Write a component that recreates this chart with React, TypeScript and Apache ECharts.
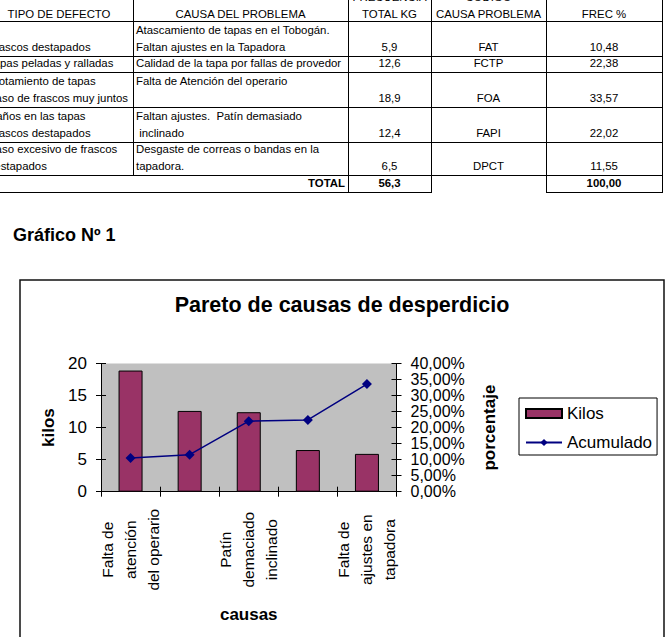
import React, { useEffect, useRef } from "react";
import * as echarts from "echarts";

// ---------- Table data ----------
const tableHeaders = ["TIPO DE DEFECTO", "CAUSA DEL PROBLEMA", "FRECUENCIA\nTOTAL KG", "CODIGO\nCAUSA PROBLEMA", "FREC %"];
const defectTypes = [
  "\nFrascos destapados",
  "Tapas peladas y ralladas",
  "Frotamiento de tapas\nPaso de frascos muy juntos",
  "Daños en las tapas\nFrascos destapados",
  "Paso excesivo de frascos\ndestapados",
];
const problemCauses = [
  "Atascamiento de tapas en el Tobogán.\nFaltan ajustes en la Tapadora",
  "Calidad de la tapa por fallas de provedor",
  "Falta de Atención del operario\n ",
  "Faltan ajustes.  Patín demasiado\n inclinado",
  "Desgaste de correas o bandas en la\ntapadora.",
];
const totalKg = ["5,9", "12,6", "18,9", "12,4", "6,5"];
const causeCodes = ["FAT", "FCTP", "FOA", "FAPI", "DPCT"];
const freqPct = ["10,48", "22,38", "33,57", "22,02", "11,55"];
const totalLabel = "TOTAL";
const totalKgSum = "56,3";
const freqPctSum = "100,00";
const heading = "Gráfico Nº 1";

// ---------- Chart data ----------
const chartTitle = "Pareto de causas de desperdicio";
const categories = [
  "Falta de\natención\ndel operario",
  "Calidad de\nla tapa\n(proveedor)",
  "Patín\ndemaciado\ninclinado",
  "Desgaste de\ncorreas o\nbandas",
  "Falta de\najustes en\ntapadora",
];
const kilos = [18.9, 12.6, 12.4, 6.5, 5.9];
const acumulado = [10.48, 11.55, 22.02, 22.38, 33.57];
const seriesNames = ["Kilos", "Acumulado"];
const kilosAxis = { min: 0, max: 20, interval: 5, name: "kilos" };
const pctAxis = { min: 0, max: 40, interval: 5, name: "porcentaje" };
const xAxisName = "causas";

const FONT = '"Liberation Sans", Arial, Helvetica, sans-serif';

// layout (not data)
const colX = [-14, 134, 349, 432, 547, 663];
const rowY = [-16, 22, 57, 73, 108, 143, 176, 193];

type CellProps = {
  c0: number;
  c1: number;
  r: number;
  text: string;
  align: "left" | "center" | "right";
  bold?: boolean;
  bottom?: boolean;
  right?: boolean;
  shift?: number;
};

function Cell({ c0, c1, r, text, align, bold, bottom = true, right = true, shift = 0 }: CellProps) {
  const left = colX[c0];
  const top = rowY[r];
  const width = colX[c1] - colX[c0];
  const height = rowY[r + 1] - rowY[r];
  return (
    <div
      style={{
        position: "absolute",
        left,
        top,
        width,
        height,
        boxSizing: "border-box",
        borderRight: right ? "1px solid #000" : "none",
        borderBottom: bottom ? "1px solid #000" : "none",
        display: "flex",
        flexDirection: "column",
        justifyContent: "flex-end",
        textAlign: align,
        whiteSpace: "pre",
        overflow: "hidden",
        fontFamily: FONT,
        fontSize: 11.4,
        lineHeight: "16.8px",
        fontWeight: bold ? "bold" : "normal",
        padding: "0 3px 0 2px",
        color: "#000",
      }}
    >
      <div style={{ transform: `translateY(${shift}px)` }}>{text}</div>
    </div>
  );
}

function Table() {
  const cells: React.ReactNode[] = [];
  tableHeaders.forEach((h, i) => {
    cells.push(<Cell key={"h" + i} c0={i} c1={i + 1} r={0} text={h} align="center" shift={1.5} />);
  });
  for (let i = 0; i < defectTypes.length; i++) {
    const r = i + 1;
    cells.push(<Cell key={"a" + i} c0={0} c1={1} r={r} text={defectTypes[i]} align="left" />);
    cells.push(<Cell key={"b" + i} c0={1} c1={2} r={r} text={problemCauses[i]} align="left" />);
    cells.push(<Cell key={"c" + i} c0={2} c1={3} r={r} text={totalKg[i]} align="center" />);
    cells.push(<Cell key={"d" + i} c0={3} c1={4} r={r} text={causeCodes[i]} align="center" />);
    cells.push(<Cell key={"e" + i} c0={4} c1={5} r={r} text={freqPct[i]} align="center" />);
  }
  const tr = defectTypes.length + 1;
  cells.push(<Cell key="t0" c0={0} c1={2} r={tr} text={totalLabel} align="right" bold />);
  cells.push(<Cell key="t1" c0={2} c1={3} r={tr} text={totalKgSum} align="center" bold />);
  cells.push(<Cell key="t2" c0={3} c1={4} r={tr} text="" align="center" bottom={false} />);
  cells.push(<Cell key="t3" c0={4} c1={5} r={tr} text={freqPctSum} align="center" bold />);
  return <>{cells}</>;
}

function Chart() {
  const ref = useRef<HTMLDivElement>(null);
  useEffect(() => {
    if (!ref.current) return;
    const chart = echarts.init(ref.current, undefined, { renderer: "svg" });

    const axisLine = { show: true, lineStyle: { color: "#000", width: 1 } };
    const pctFmt = (v: number) => v.toFixed(2).replace(".", ",") + "%";

    const option: any = {
      animation: false,
      title: {
        text: chartTitle,
        left: 342,
        top: 24,
        textAlign: "center",
        padding: 0,
        textStyle: { fontFamily: FONT, fontWeight: "bold", fontSize: 21.5, color: "#000" },
      },
      graphic: [
        {
          type: "rect",
          silent: true,
          shape: { x: 20, y: 10, width: 644, height: 400 },
          style: { fill: "none", stroke: "#111", lineWidth: 1.5 },
        },
      ],
      legend: {
        orient: "vertical",
        left: 519,
        top: 128,
        padding: [7, 5, 4, 6],
        borderColor: "#000",
        borderWidth: 1,
        itemWidth: 36,
        itemHeight: 9,
        itemGap: 12,
        textStyle: { fontFamily: FONT, fontSize: 17, color: "#000" },
        data: [
          { name: seriesNames[0], icon: "rect" },
          { name: seriesNames[1] },
        ],
      },
      grid: {
        left: 101,
        right: 270.5,
        top: 93.5,
        bottom: 145.3,
        show: true,
        backgroundColor: "#C0C0C0",
        borderWidth: 0,
      },
      xAxis: [
        {
          type: "category",
          position: "bottom",
          data: categories,
          axisLine,
          axisTick: { show: true, interval: 0, length: 5, lineStyle: { color: "#000" } },
          axisLabel: {
            interval: 1,
            rotate: 90,
            margin: 13,
            color: "#000",
            formatter: (v: string) =>
              v
                .split("\n")
                .map((l) => "{c|" + l + "}")
                .join("\n"),
            rich: {
              c: { width: 90, align: "center", fontSize: 15.5, lineHeight: 23, fontFamily: FONT, color: "#000" },
            },
          },
          name: xAxisName,
          nameLocation: "middle",
          nameGap: 114,
          nameTextStyle: { fontFamily: FONT, fontWeight: "bold", fontSize: 17, color: "#000" },
        },
        {
          type: "category",
          position: "bottom",
          data: categories,
          axisLine: { show: false },
          axisTick: { show: true, inside: true, interval: 0, length: 5, lineStyle: { color: "#000" } },
          axisLabel: { show: false },
        },
      ],
      yAxis: [
        {
          type: "value",
          position: "left",
          min: kilosAxis.min,
          max: kilosAxis.max,
          interval: kilosAxis.interval,
          axisLine,
          axisTick: { show: true, length: 5, lineStyle: { color: "#000" } },
          axisLabel: { margin: 14, color: "#000", fontFamily: FONT, fontSize: 17 },
          splitLine: { show: false },
          name: kilosAxis.name,
          nameLocation: "middle",
          nameGap: 44,
          nameTextStyle: { fontFamily: FONT, fontWeight: "bold", fontSize: 17, color: "#000" },
        },
        {
          type: "value",
          position: "right",
          min: pctAxis.min,
          max: pctAxis.max,
          interval: pctAxis.interval,
          axisLine,
          axisTick: { show: true, length: 5, lineStyle: { color: "#000" } },
          axisLabel: { margin: 14, color: "#000", fontFamily: FONT, fontSize: 16, formatter: pctFmt },
          splitLine: { show: false },
          name: pctAxis.name,
          nameLocation: "middle",
          nameGap: 84,
          nameTextStyle: { fontFamily: FONT, fontWeight: "bold", fontSize: 17, color: "#000" },
        },
        {
          type: "value",
          position: "left",
          min: kilosAxis.min,
          max: kilosAxis.max,
          interval: kilosAxis.interval,
          axisLine: { show: false },
          axisTick: { show: true, inside: true, length: 5, lineStyle: { color: "#000" } },
          axisLabel: { show: false },
          splitLine: { show: false },
        },
        {
          type: "value",
          position: "right",
          min: pctAxis.min,
          max: pctAxis.max,
          interval: pctAxis.interval,
          axisLine: { show: false },
          axisTick: { show: true, inside: true, length: 5, lineStyle: { color: "#000" } },
          axisLabel: { show: false },
          splitLine: { show: false },
        },
      ],
      series: [
        {
          name: seriesNames[0],
          type: "bar",
          xAxisIndex: 0,
          yAxisIndex: 0,
          data: kilos,
          barWidth: 24,
          itemStyle: { color: "#993366", borderColor: "#000", borderWidth: 1 },
        },
        {
          name: seriesNames[1],
          type: "line",
          xAxisIndex: 0,
          yAxisIndex: 1,
          data: acumulado,
          symbol: "diamond",
          symbolSize: 10,
          lineStyle: { color: "#000080", width: 1.5 },
          itemStyle: { color: "#000080" },
        },
      ],
    };
    chart.setOption(option);
    return () => chart.dispose();
  }, []);
  return <div ref={ref} style={{ position: "absolute", left: 0, top: 270, width: 667, height: 367 }} />;
}

export default function App() {
  return (
    <div
      style={{
        position: "absolute",
        left: 0,
        top: 0,
        width: 667,
        height: 637,
        overflow: "hidden",
        background: "#fff",
      }}
    >
      <Table />
      <div
        style={{
          position: "absolute",
          left: 13,
          top: 226,
          fontFamily: FONT,
          fontSize: 18,
          lineHeight: "18px",
          fontWeight: "bold",
          color: "#000",
          whiteSpace: "nowrap",
        }}
      >
        {heading}
      </div>
      <Chart />
    </div>
  );
}
